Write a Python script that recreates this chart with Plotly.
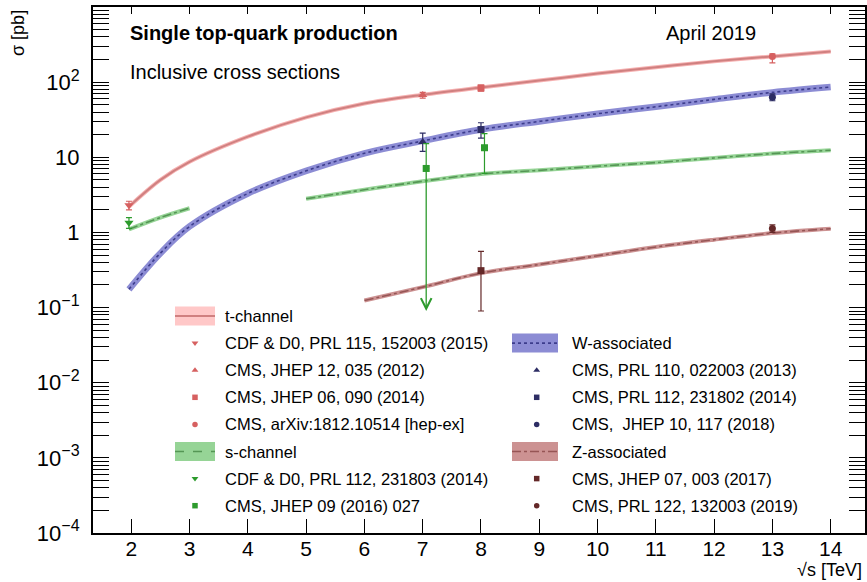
import numpy as np
import plotly.graph_objects as go

# ---------------- theory curves (sqrt(s) in TeV, sigma in pb) ----------------
t_sqrts = [1.96, 2.5, 3, 4, 5, 6, 7, 8, 9, 10, 11, 12, 13, 14]
t_xsec = [2.2, 5.0, 8.7, 18.8, 34, 52, 68, 85, 105, 130, 158, 189, 220, 255]

tw_sqrts = [1.96, 2.5, 3, 4, 5, 6, 7, 8, 9, 10, 11, 12, 13, 14]
tw_xsec = [0.175, 0.53, 1.2, 3.3, 6.6, 11.3, 16.5, 23.4, 30, 38, 47, 59, 73, 86]

s_tev_sqrts = [1.96, 2.5, 3.0]
s_tev_xsec = [1.1, 1.58, 2.1]
s_sqrts = [5, 6, 7, 8, 9, 10, 11, 12, 13, 14]
s_xsec = [2.8, 3.7, 4.8, 6.0, 6.7, 7.6, 8.5, 9.8, 11.2, 12.4]

z_sqrts = [6, 7, 8, 9, 10, 11, 12, 13, 14]
z_xsec = [0.124, 0.187, 0.287, 0.375, 0.49, 0.64, 0.8, 0.98, 1.12]

# ---------------- measurements ----------------
t_pts_x = [1.96, 7, 8, 13]
t_pts_y = [2.3, 67.2, 83.6, 220]
t_pts_up = [0.3, 6.1, 7.7, 18]
t_pts_dn = [0.3, 6.1, 7.7, 40]
t_pts_sym = ["triangle-down", "triangle-up", "square", "circle"]
t_pts_lab = ["CDF & D0, PRL 115, 152003 (2015)", "CMS, JHEP 12, 035 (2012)",
             "CMS, JHEP 06, 090 (2014)", "CMS, arXiv:1812.10514 [hep-ex]"]

s_pts_x = [1.96, 7.06, 8.06]
s_pts_y = [1.35, 7.1, 13.4]
s_pts_up = [0.22, 8.1, 7.3]
s_pts_dn = [0.22, 0.0, 7.3]
s_arrow_end = 0.09  # 7 TeV lower error extends below zero -> arrow
s_pts_sym = ["triangle-down", "square", "square"]
s_pts_lab = ["CDF & D0, PRL 112, 231803 (2014)", "CMS, JHEP 09 (2016) 027"]

w_pts_x = [7, 8, 13]
w_pts_y = [16, 23.4, 63.1]
w_pts_up = [5, 5.4, 6.6]
w_pts_dn = [4, 5.4, 6.6]
w_pts_sym = ["triangle-up", "square", "circle"]
w_pts_lab = ["CMS, PRL 110, 022003 (2013)", "CMS, PRL 112, 231802 (2014)",
             "CMS,  JHEP 10, 117 (2018)"]

z_pts_x = [8, 13]
z_pts_y = [0.31, 1.13]
z_pts_up = [0.25, 0.13]
z_pts_dn = [0.22, 0.13]
z_pts_sym = ["square", "circle"]
z_pts_lab = ["CMS, JHEP 07, 003 (2017)", "CMS, PRL 122, 132003 (2019)"]

SUP = "<sup><span style='font-size:16px'>{}</span></sup>"
y_tickvals = [1e-4, 1e-3, 1e-2, 1e-1, 1, 10, 100]
y_ticktext = ["10" + SUP.format("\u22124"), "10" + SUP.format("\u22123"), "10" + SUP.format("\u22122"),
              "10" + SUP.format("\u22121"), "1", "10", "10" + SUP.format("2")]
x_tickvals = list(range(2, 15))
X_RANGE = [1.343, 14.589]

# ---------------- styles ----------------
FONT = "Liberation Sans, Arial, Helvetica, sans-serif"
C_T_BAND, C_T_LINE, C_T_PT = "rgb(246,178,178)", "rgb(208,128,128)", "rgb(214,96,96)"
C_S_BAND, C_S_LINE, C_S_PT = "rgb(150,212,150)", "rgb(85,150,85)", "rgb(45,155,45)"
C_W_BAND, C_W_LINE, C_W_PT = "rgb(140,140,212)", "rgb(60,60,140)", "rgb(45,45,100)"
C_Z_BAND, C_Z_LINE, C_Z_PT = "rgb(204,146,146)", "rgb(150,85,85)", "rgb(100,40,40)"
C_T_SWATCH = "rgb(255,200,200)"

fig = go.Figure()


def band(x, y, band_col, line_col, band_w, dash, line_w=1.6):
    fig.add_trace(go.Scatter(x=x, y=y, mode="lines", line=dict(color=band_col, width=band_w, shape="spline"),
                             hoverinfo="skip"))
    fig.add_trace(go.Scatter(x=x, y=y, mode="lines", line=dict(color=line_col, width=line_w, dash=dash, shape="spline"),
                             hoverinfo="skip"))


band(tw_sqrts, tw_xsec, C_W_BAND, C_W_LINE, 6.5, "dot", 1.6)
band(t_sqrts, t_xsec, C_T_BAND, C_T_LINE, 4, "solid", 2)
band(s_tev_sqrts, s_tev_xsec, C_S_BAND, C_S_LINE, 4, "dashdot", 1.6)
band(s_sqrts, s_xsec, C_S_BAND, C_S_LINE, 4, "dashdot", 1.6)
band(z_sqrts, z_xsec, C_Z_BAND, C_Z_LINE, 4, "dashdot", 1.6)


def points(xs, ys, ups, dns, syms, col):
    for i in range(len(xs)):
        sz = 8 if syms[i].startswith("triangle") else 7
        fig.add_trace(go.Scatter(
            x=[xs[i]], y=[ys[i]], mode="markers",
            marker=dict(symbol=syms[i], size=sz, color=col, line=dict(width=0)),
            error_y=dict(type="data", symmetric=False, array=[ups[i]], arrayminus=[dns[i]],
                         color=col, thickness=1.2, width=3),
        ))


points(t_pts_x, t_pts_y, t_pts_up, t_pts_dn, t_pts_sym, C_T_PT)
points(w_pts_x, w_pts_y, w_pts_up, w_pts_dn, w_pts_sym, C_W_PT)
points(z_pts_x, z_pts_y, z_pts_up, z_pts_dn, z_pts_sym, C_Z_PT)
points(s_pts_x, s_pts_y, s_pts_up, s_pts_dn, s_pts_sym, C_S_PT)

# downward arrow for the 7 TeV s-channel measurement
fig.add_annotation(x=s_pts_x[1], y=np.log10(s_arrow_end), ax=s_pts_x[1], ay=np.log10(s_pts_y[1]),
                   xref="x", yref="y", axref="x", ayref="y", text="", showarrow=True,
                   arrowhead=5, arrowsize=1.6, arrowwidth=1.3, arrowcolor=C_S_PT)

# ---------------- axes ----------------
minor_y = [m * 10.0 ** k for k in range(-4, 3) for m in range(2, 10)]
fig.update_xaxes(range=X_RANGE, tickvals=x_tickvals, ticks="inside", ticklen=14, tickwidth=1,
                 tickcolor="black", showline=True, linewidth=2, linecolor="black", mirror=True,
                 showgrid=False, zeroline=False, tickfont=dict(size=21, family=FONT, color="black"),
                 ticklabelstandoff=-4, automargin=False)
fig.update_yaxes(type="log", range=[-4, 3], tickvals=y_tickvals, ticktext=y_ticktext, ticks="inside",
                 ticklen=16, tickwidth=1, tickcolor="black", showline=True, linewidth=2, linecolor="black",
                 mirror="allticks", showgrid=False, zeroline=False,
                 minor=dict(tickvals=minor_y, ticks="inside", ticklen=8, tickwidth=1, tickcolor="black",
                            showgrid=False),
                 tickfont=dict(size=22, family=FONT, color="black"), ticklabelstandoff=7, automargin=False)

# overlay axes in [0,1] used to place legend markers inside the frame; x3 = short ticks on the top edge
fig.update_layout(
    xaxis2=dict(overlaying="x", range=[0, 1], visible=False, anchor="y2", automargin=False),
    yaxis2=dict(overlaying="y", range=[0, 1], visible=False, anchor="x2", automargin=False),
    xaxis3=dict(overlaying="x", side="top", anchor="y", range=X_RANGE, tickvals=x_tickvals, ticks="inside",
                ticklen=7, tickwidth=1, tickcolor="black", showticklabels=False, showline=False,
                showgrid=False, zeroline=False, automargin=False),
)
fig.add_trace(go.Scatter(x=[], y=[], xaxis="x3", yaxis="y", hoverinfo="skip"))

# ---------------- legend (drawn manually, two columns) ----------------
X0, X1, Y0, Y1 = 93, 865, 7, 533  # plot frame in pixels
W, H = X1 - X0, Y1 - Y0


def px(x):
    return (x - X0) / W


def py(y):
    return (Y1 - y) / H


ROW0, STEP = 316, 27.1
LEG_FONT = 16.5

left = dict(sw=(175, 215), mk=195, tx=222.7)
right = dict(sw=(512, 558), mk=536.7, tx=570)

entries = [
    (left, 0, "band", "t-channel", (C_T_SWATCH, C_T_LINE, "solid")),
    (left, 1, "pt", t_pts_lab[0], (t_pts_sym[0], C_T_PT)),
    (left, 2, "pt", t_pts_lab[1], (t_pts_sym[1], C_T_PT)),
    (left, 3, "pt", t_pts_lab[2], (t_pts_sym[2], C_T_PT)),
    (left, 4, "pt", t_pts_lab[3], (t_pts_sym[3], C_T_PT)),
    (left, 5, "band", "s-channel", (C_S_BAND, C_S_LINE, "dash")),
    (left, 6, "pt", s_pts_lab[0], (s_pts_sym[0], C_S_PT)),
    (left, 7, "pt", s_pts_lab[1], (s_pts_sym[1], C_S_PT)),
    (right, 1, "band", "W-associated", (C_W_BAND, C_W_LINE, "dot")),
    (right, 2, "pt", w_pts_lab[0], (w_pts_sym[0], C_W_PT)),
    (right, 3, "pt", w_pts_lab[1], (w_pts_sym[1], C_W_PT)),
    (right, 4, "pt", w_pts_lab[2], (w_pts_sym[2], C_W_PT)),
    (right, 5, "band", "Z-associated", (C_Z_BAND, C_Z_LINE, "dashdot")),
    (right, 6, "pt", z_pts_lab[0], (z_pts_sym[0], C_Z_PT)),
    (right, 7, "pt", z_pts_lab[1], (z_pts_sym[1], C_Z_PT)),
]

for col, row, kind, label, sty in entries:
    yc = ROW0 + STEP * row
    if kind == "band":
        fill, lcol, dash = sty
        fig.add_shape(type="rect", xref="paper", yref="paper", x0=px(col["sw"][0]), x1=px(col["sw"][1]),
                      y0=py(yc + 9.5), y1=py(yc - 9.5), fillcolor=fill, line=dict(width=0), layer="below")
        fig.add_shape(type="line", xref="paper", yref="paper", x0=px(col["sw"][0]), x1=px(col["sw"][1]),
                      y0=py(yc), y1=py(yc), line=dict(color=lcol, width=2 if dash == "solid" else 1.6, dash=dash))
    else:
        sym, mcol = sty
        fig.add_trace(go.Scatter(x=[px(col["mk"])], y=[py(yc)], xaxis="x2", yaxis="y2", mode="markers",
                                 marker=dict(symbol=sym, size=6 if sym.startswith("triangle") else 5.5,
                                             color=mcol, line=dict(width=0)), hoverinfo="skip"))
    fig.add_annotation(x=px(col["tx"]), y=py(yc), xref="paper", yref="paper", text=label, showarrow=False,
                       xanchor="left", yanchor="middle", font=dict(size=LEG_FONT, family=FONT, color="black"))

# ---------------- texts ----------------
fig.add_annotation(x=px(128), y=py(33), xref="paper", yref="paper", text="<b>Single top-quark production</b>",
                   showarrow=False, xanchor="left", yanchor="middle", font=dict(size=20, family=FONT, color="black"))
fig.add_annotation(x=px(128), y=py(72), xref="paper", yref="paper", text="Inclusive cross sections",
                   showarrow=False, xanchor="left", yanchor="middle", font=dict(size=20, family=FONT, color="black"))
fig.add_annotation(x=px(664), y=py(33), xref="paper", yref="paper", text="April 2019",
                   showarrow=False, xanchor="left", yanchor="middle", font=dict(size=20, family=FONT, color="black"))
fig.add_annotation(x=px(18), y=py(8), xref="paper", yref="paper", text="\u03c3 [pb]", textangle=-90,
                   showarrow=False, xanchor="center", yanchor="top", font=dict(size=18, family=FONT, color="black"))
fig.add_annotation(x=px(864), y=py(570), xref="paper", yref="paper", text="\u221as [TeV]",
                   showarrow=False, xanchor="right", yanchor="middle", font=dict(size=18, family=FONT, color="black"))

fig.update_layout(width=867, height=582, margin=dict(l=93, r=2, t=7, b=49, autoexpand=False),
                  plot_bgcolor="white", paper_bgcolor="white", showlegend=False,
                  font=dict(family=FONT, color="black"))

# remove the browser's default 8px body margin so the 867x582 figure fills the window exactly
fig.write_html("out.html", config={"displayModeBar": False},
               post_script="document.body.style.margin='0px';document.body.style.overflow='hidden';")
